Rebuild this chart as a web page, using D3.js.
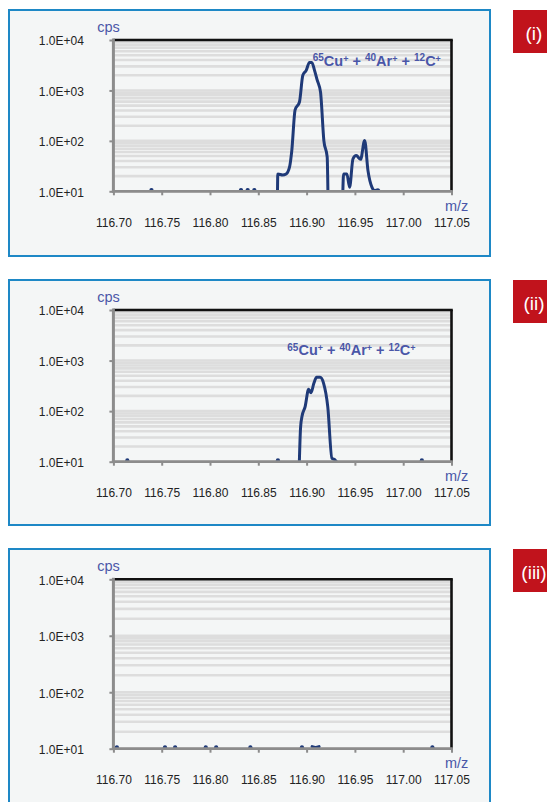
<!DOCTYPE html>
<html>
<head>
<meta charset="utf-8">
<script src="https://cdn.jsdelivr.net/npm/d3@7"></script>
<style>
  body { margin: 0; background: #fff; }
  svg text { font-family: "Liberation Sans", Arial, sans-serif; }
</style>
</head>
<body>
<svg id="chart" width="547" height="802"></svg>
<script>
// axis ticks
const xTicks = [116.70, 116.75, 116.80, 116.85, 116.90, 116.95, 117.00, 117.05];
const yTicks = [1e1, 1e2, 1e3, 1e4];
const yTickLabels = ["1.0E+01", "1.0E+02", "1.0E+03", "1.0E+04"];
const panelTags = ["(i)", "(ii)", "(iii)"];
const ionMass = ["65", "40", "12"];
const ionName = ["Cu", "Ar", "C"];

// spectra, cps vs m/z ; 0 = nothing recorded (gap in trace)
const mz1 = [116.7000, 116.7394, 116.7430,
  116.8321, 116.8355, 116.8390, 116.8425, 116.8459, 116.8500,
  116.8695, 116.8702, 116.8753, 116.8788, 116.8823, 116.8847, 116.8881, 116.8926, 116.8961,
  116.8996, 116.9030, 116.9054, 116.9082, 116.9110, 116.9144, 116.9179, 116.9213, 116.9227,
  116.9300,
  116.9366, 116.9383, 116.9417, 116.9445, 116.9480, 116.9514, 116.9559, 116.9601, 116.9635,
  116.9677, 116.9705, 116.9739, 116.9753, 116.9790, 117.0500];
const cps1 = [0, 10.6, 0,
  10.6, 0, 10.6, 0, 10.6, 0,
  1, 22, 21, 22, 30, 65, 410, 590, 2000,
  2500, 3600, 3600, 2500, 1600, 930, 100, 48, 1,
  0,
  1, 22, 22, 12, 44, 51, 43, 102, 26,
  12, 10.4, 10.7, 10, 0, 0];

const mz2 = [116.7000, 116.7144, 116.7180, 116.8670, 116.8703, 116.8740,
  116.8912, 116.8938, 116.8952, 116.8985, 116.9021, 116.9046, 116.9075, 116.9104, 116.9140,
  116.9176, 116.9219, 116.9262, 116.9291, 116.9309, 116.9340,
  117.0160, 117.0193, 117.0230, 117.0500];
const cps2 = [0, 10.6, 0, 0, 10.6, 0,
  1, 49, 78, 123, 270, 232, 355, 466, 466,
  355, 123, 11.7, 11, 10, 0,
  0, 10.6, 0, 0];

const mz3 = [116.7036, 116.7070, 116.7534, 116.7580, 116.7639, 116.7680,
  116.7956, 116.8000, 116.8064, 116.8100, 116.8418, 116.8460,
  116.8952, 116.9000, 116.9057, 116.9093, 116.9129, 116.9170,
  117.0302, 117.0340];
const cps3 = [10.6, 0, 10.6, 0, 10.6, 0,
  10.6, 0, 10.6, 0, 10.6, 0,
  10.6, 0, 10.9, 10.5, 10.9, 0,
  10.6, 0];

const series = [[mz1, cps1], [mz2, cps2], [mz3, cps3]];

const layout = [
  { boxTop: 10, boxBottom: 256, plotTop: 40, plotBottom: 191.3, label: [312.7, 65.7] },
  { boxTop: 280, boxBottom: 525, plotTop: 310, plotBottom: 461.7, label: [287.3, 355] },
  { boxTop: 549, boxBottom: 840, plotTop: 579.3, plotBottom: 748.7, label: null }
];
const left = 113.4, right = 451.5;
const navy = "#1f3a78", violet = "#4a56a8";

const svg = d3.select("#chart");

layout.forEach((L, p) => {
  const g = svg.append("g");
  const [mz, cps] = series[p];
  const data = mz.map((m, i) => ({ m: m, v: cps[i] }));

  const x = d3.scaleLinear().domain([116.70, 117.05]).range([left, right]);
  const y = d3.scaleLog().domain([10, 1e4]).range([L.plotBottom, L.plotTop]);

  // panel frame
  g.append("rect")
    .attr("x", 9).attr("y", L.boxTop)
    .attr("width", 481).attr("height", L.boxBottom - L.boxTop)
    .attr("fill", "#f4f6f6").attr("stroke", "#1e88c6").attr("stroke-width", 2);

  // tag
  g.append("rect")
    .attr("x", 513).attr("y", L.boxTop)
    .attr("width", 50).attr("height", 43)
    .attr("fill", "#c1131c");
  g.append("text")
    .attr("x", 534).attr("y", L.boxTop + 29.5)
    .attr("text-anchor", "middle")
    .attr("font-size", 19).attr("fill", "#fff")
    .text(panelTags[p]);

  // log minor gridlines
  g.append("g").selectAll("line")
    .data(y.ticks())
    .join("line")
    .attr("x1", left).attr("x2", right)
    .attr("y1", d => y(d)).attr("y2", d => y(d))
    .attr("stroke", "#dddddd").attr("stroke-width", 2.6);

  // trace
  const clipId = "clip" + p;
  g.append("clipPath").attr("id", clipId)
    .append("rect")
    .attr("x", left).attr("y", L.plotTop)
    .attr("width", right - left).attr("height", L.plotBottom - L.plotTop);

  const line = d3.line()
    .defined(d => d.v > 0)
    .x(d => x(d.m))
    .y(d => y(d.v))
    .curve(d3.curveMonotoneX);

  g.append("path")
    .datum(data)
    .attr("clip-path", "url(#" + clipId + ")")
    .attr("d", line)
    .attr("fill", "none")
    .attr("stroke", navy)
    .attr("stroke-width", 3)
    .attr("stroke-linejoin", "round")
    .attr("stroke-linecap", "round");

  // single isolated readings
  const lonely = data.filter((d, i) => d.v > 0 &&
    (i === 0 || data[i - 1].v <= 0) &&
    (i === data.length - 1 || data[i + 1].v <= 0));
  g.append("g").selectAll("circle")
    .data(lonely)
    .join("circle")
    .attr("cx", d => x(d.m))
    .attr("cy", d => y(d.v))
    .attr("r", 2.1)
    .attr("fill", navy);

  // axes
  const xAxis = g.append("g")
    .attr("transform", "translate(0," + L.plotBottom + ")")
    .call(d3.axisBottom(x).tickValues(xTicks).tickFormat(d3.format(".2f"))
      .tickSize(4).tickPadding(23));
  xAxis.select(".domain").remove();
  xAxis.selectAll("line").attr("stroke", "#8c8c8c").attr("stroke-width", 2);
  xAxis.selectAll("text").attr("font-size", 12).attr("fill", "#222")
    .attr("font-family", "Liberation Sans, Arial, sans-serif");

  const yAxis = g.append("g")
    .attr("transform", "translate(" + left + ",0)")
    .call(d3.axisLeft(y).tickValues(yTicks).tickFormat((d, i) => yTickLabels[i])
      .tickSize(4).tickPadding(25.5));
  yAxis.select(".domain").remove();
  yAxis.selectAll("line").attr("stroke", "#8c8c8c").attr("stroke-width", 2);
  yAxis.selectAll("text").attr("font-size", 12).attr("fill", "#222").attr("dy", "0.4em")
    .attr("font-family", "Liberation Sans, Arial, sans-serif");

  // frame lines: black top/right, grey left/bottom
  g.append("line").attr("x1", left).attr("x2", right + 1.3)
    .attr("y1", L.plotTop).attr("y2", L.plotTop)
    .attr("stroke", "#111").attr("stroke-width", 2.6);
  g.append("line").attr("x1", right).attr("x2", right)
    .attr("y1", L.plotTop).attr("y2", L.plotBottom)
    .attr("stroke", "#111").attr("stroke-width", 2.6);
  g.append("line").attr("x1", left).attr("x2", left)
    .attr("y1", L.plotTop - 1.5).attr("y2", L.plotBottom + 1.3)
    .attr("stroke", "#8c8c8c").attr("stroke-width", 3);
  g.append("line").attr("x1", left - 1.5).attr("x2", right + 1.3)
    .attr("y1", L.plotBottom).attr("y2", L.plotBottom)
    .attr("stroke", "#8c8c8c").attr("stroke-width", 2.7);

  // axis titles
  g.append("text").attr("x", 97.3).attr("y", L.plotTop - 8.3)
    .attr("font-size", 14.5).attr("fill", violet).text("cps");
  g.append("text").attr("x", 445).attr("y", L.plotBottom + 19.5)
    .attr("font-size", 14.5).attr("fill", violet).text("m/z");

  // ion annotation
  if (L.label) {
    const t = g.append("text")
      .attr("x", L.label[0]).attr("y", L.label[1])
      .attr("font-size", 14.5).attr("font-weight", "bold").attr("fill", violet);
    ionName.forEach((nm, i) => {
      t.append("tspan").attr("font-size", 10).attr("dy", -4.5).text(ionMass[i]);
      t.append("tspan").attr("dy", 4.5).text(nm);
      t.append("tspan").attr("font-size", 9).attr("dy", -4).text("+");
      t.append("tspan").attr("dy", 4).text(i < ionName.length - 1 ? " + " : "");
    });
  }
});
</script>
</body>
</html>
